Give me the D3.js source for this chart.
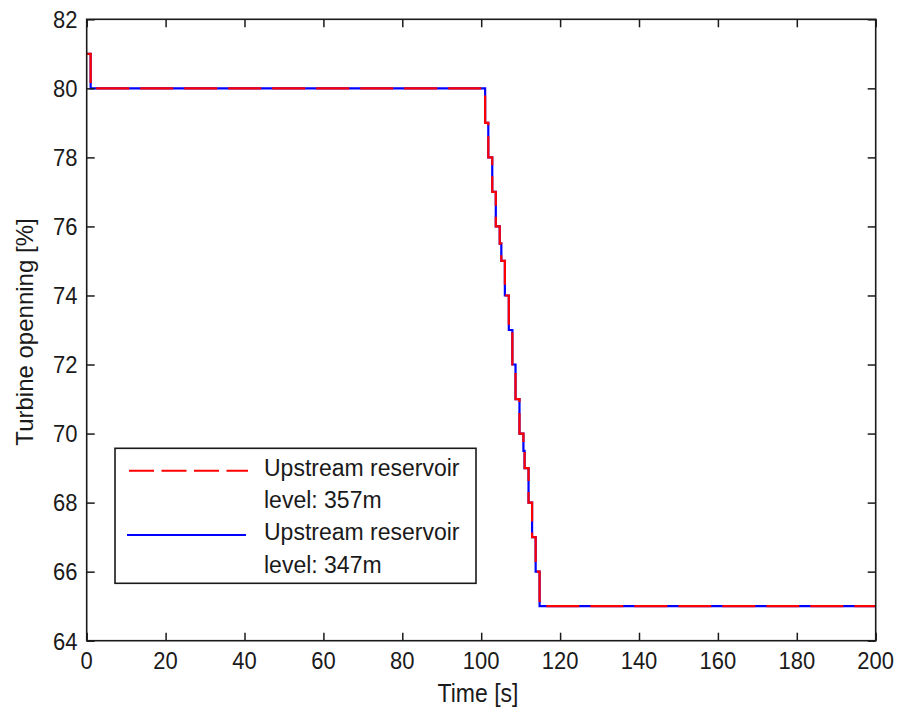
<!DOCTYPE html>
<html>
<head>
<meta charset="utf-8">
<script src="https://cdn.jsdelivr.net/npm/d3@7"></script>
<style>
  html, body { margin: 0; padding: 0; background: #fff; }
  svg { display: block; font-family: "Liberation Sans", Arial, sans-serif; }
</style>
</head>
<body>
<svg id="chart" width="901" height="711"></svg>
<script>
// Step times [s] and turbine opening [%] for each reservoir level
const times357 = [0, 1.0, 101.0, 101.8, 102.8, 103.7, 104.7, 105.1, 106.0, 107.0, 107.9, 108.7, 109.7, 110.7, 111.0, 112.0, 112.9, 113.8, 114.8, 200];
const opening357 = [81, 80, 79, 78, 77, 76, 75.5, 75, 74, 73, 72, 71, 70, 69.5, 69, 68, 67, 66, 65, 65];
const times347 = [0, 1.0, 101.0, 101.8, 102.8, 103.7, 104.7, 105.1, 106.0, 107.0, 107.9, 108.7, 109.7, 110.7, 111.0, 112.0, 112.9, 113.8, 114.8, 200];
const opening347 = [81, 80, 79, 78, 77, 76, 75.5, 75, 74, 73, 72, 71, 70, 69.5, 69, 68, 67, 66, 65, 65];

const xTicks = [0, 20, 40, 60, 80, 100, 120, 140, 160, 180, 200];
const yTicks = [64, 66, 68, 70, 72, 74, 76, 78, 80, 82];

const legendLabels = [
  ["Upstream reservoir", "level: 357m"],
  ["Upstream reservoir", "level: 347m"]
];

const svg = d3.select("#chart");
const m = { left: 86.7, right: 875.7, top: 19.3, bottom: 640.7 };

const x = d3.scaleLinear().domain([0, 200]).range([m.left, m.right]);
const y = d3.scaleLinear().domain([64, 82]).range([m.bottom, m.top]);

const axisColor = "#1a1a1a";
const textColor = "#1a1a1a";
const tickLen = 8;

// Lines: blue solid underneath, red dashed on top
const line = d3.line().curve(d3.curveStepAfter);
const pts = (ts, vs) => ts.map((t, i) => [x(t), y(vs[i])]);

const plot = svg.append("g");
plot.append("path")
  .attr("d", line(pts(times347, opening347)))
  .attr("fill", "none").attr("stroke", "#0000ff").attr("stroke-width", 2.2);
plot.append("path")
  .attr("d", line(pts(times357, opening357)))
  .attr("fill", "none").attr("stroke", "#ff0000").attr("stroke-width", 2.2)
  .attr("stroke-dasharray", "33,11");

// Axes box with inward ticks on all four sides
const axG = svg.append("g");
const styleAxis = g => {
  g.select(".domain").remove();
  g.selectAll(".tick line").attr("stroke", axisColor).attr("stroke-width", 1.5);
  g.selectAll(".tick text").remove();
};

axG.append("g").attr("transform", `translate(0,${m.bottom})`)
  .call(d3.axisBottom(x).tickValues(xTicks).tickSizeInner(-tickLen).tickSizeOuter(0))
  .call(styleAxis);
axG.append("g").attr("transform", `translate(0,${m.top})`)
  .call(d3.axisTop(x).tickValues(xTicks).tickSizeInner(-tickLen).tickSizeOuter(0))
  .call(styleAxis);
axG.append("g").attr("transform", `translate(${m.left},0)`)
  .call(d3.axisLeft(y).tickValues(yTicks).tickSizeInner(-tickLen).tickSizeOuter(0))
  .call(styleAxis);
axG.append("g").attr("transform", `translate(${m.right},0)`)
  .call(d3.axisRight(y).tickValues(yTicks).tickSizeInner(-tickLen).tickSizeOuter(0))
  .call(styleAxis);

axG.append("rect")
  .attr("x", m.left).attr("y", m.top)
  .attr("width", m.right - m.left).attr("height", m.bottom - m.top)
  .attr("fill", "none").attr("stroke", axisColor).attr("stroke-width", 1.6);

// Tick labels (slightly tall glyphs)
const stretch = 1.12;
axG.selectAll(".xlab").data(xTicks).join("text")
  .attr("class", "xlab")
  .attr("transform", d => `translate(${x(d)},669) scale(1,${stretch})`)
  .attr("text-anchor", "middle").attr("fill", textColor)
  .style("font-size", "22px")
  .text(d => d);
axG.selectAll(".ylab").data(yTicks).join("text")
  .attr("class", "ylab")
  .attr("transform", d => `translate(77.5,${y(d) + 8.8}) scale(1,${stretch})`)
  .attr("text-anchor", "end").attr("fill", textColor)
  .style("font-size", "22px")
  .text(d => d);

// Axis titles
svg.append("text")
  .attr("transform", `translate(478,701.5) scale(1,1.15)`)
  .attr("text-anchor", "middle").attr("fill", textColor)
  .style("font-size", "23px")
  .text("Time [s]");
svg.append("text")
  .attr("transform", `translate(33,332) rotate(-90)`)
  .attr("text-anchor", "middle").attr("fill", textColor)
  .style("font-size", "24px")
  .text("Turbine openning [%]");

// Legend
const leg = svg.append("g");
leg.append("rect")
  .attr("x", 115).attr("y", 448.3).attr("width", 361).attr("height", 135)
  .attr("fill", "#fff").attr("stroke", axisColor).attr("stroke-width", 1.6);
leg.append("line")
  .attr("x1", 129).attr("x2", 248).attr("y1", 470.7).attr("y2", 470.7)
  .attr("stroke", "#ff0000").attr("stroke-width", 2).attr("stroke-dasharray", "25,7.5");
leg.append("line")
  .attr("x1", 127).attr("x2", 246).attr("y1", 535).attr("y2", 535)
  .attr("stroke", "#0000ff").attr("stroke-width", 2);
const legBase = [[476, 508], [540, 573]];
legendLabels.forEach((lines, i) => {
  lines.forEach((s, j) => {
    leg.append("text")
      .attr("transform", `translate(264,${legBase[i][j]}) scale(1,1.05)`)
      .attr("fill", textColor).style("font-size", "23px")
      .text(s);
  });
});
</script>
</body>
</html>
